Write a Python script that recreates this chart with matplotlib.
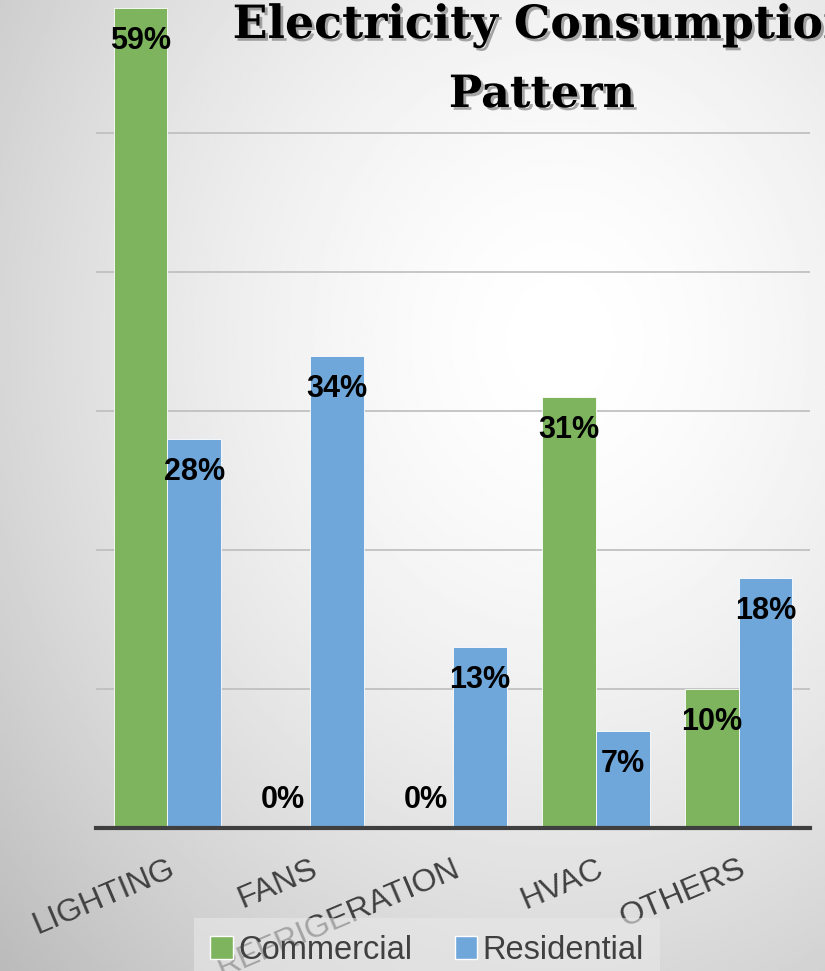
import numpy as np
import matplotlib
matplotlib.use("Agg")
import matplotlib.pyplot as plt
import matplotlib.patheffects as pe
from matplotlib.patches import Patch

categories = ["LIGHTING", "FANS", "REFRIGERATION", "HVAC", "OTHERS"]
commercial = [59, 0, 0, 31, 10]
residential = [28, 34, 13, 7, 18]

green = "#7db45d"
blue = "#6fa7da"
W, H = 825, 971

fig = plt.figure(figsize=(W / 100, H / 100), dpi=100)

# soft radial background like the slide
bg = fig.add_axes([0, 0, 1, 1], zorder=-10)
yy, xx = np.mgrid[0:1:300j, 0:1:300j]
r = np.sqrt(((xx - 0.68) / 0.9) ** 2 + ((yy - 0.35) / 0.9) ** 2)
shade = 1.0 - 0.25 * np.clip(r, 0, 1.3) ** 1.6
bg.imshow(shade, cmap="gray", vmin=0, vmax=1, extent=[0, 1, 0, 1], aspect="auto", origin="upper")
bg.axis("off")

ax = fig.add_axes([96 / W, (H - 828) / H, 714 / W, 828 / H])
ax.patch.set_alpha(0)

x = np.arange(len(categories))
bw = 0.377
b1 = ax.bar(x - bw / 2, commercial, bw, color=green, edgecolor="white", linewidth=0.6, label="Commercial", zorder=3)
b2 = ax.bar(x + bw / 2, residential, bw, color=blue, edgecolor="white", linewidth=0.6, label="Residential", zorder=3)

ax.set_xlim(-0.5, 4.5)
ax.set_ylim(0, 59.6)
ax.set_yticks([10, 20, 30, 40, 50])
ax.yaxis.grid(True, color="#bdbdbd", linewidth=1.2, zorder=0)
ax.tick_params(left=False, labelleft=False, bottom=False, pad=15)
for s in ["top", "right", "left"]:
    ax.spines[s].set_visible(False)
ax.spines["bottom"].set_color("#3f3f3f")
ax.spines["bottom"].set_linewidth(3)
ax.spines["bottom"].set_zorder(4)

ax.set_xticks(x)
ax.set_xticklabels(categories, rotation=23, ha="right", va="top", rotation_mode="anchor",
                   fontsize=23, color="#404040", family="Liberation Sans")

for bars, vals in [(b1, commercial), (b2, residential)]:
    for bar, v in zip(bars, vals):
        cx = bar.get_x() + bar.get_width() / 2
        off = -33 if v > 0 else 28
        ax.annotate(f"{v}%", (cx, v), xytext=(0, off), textcoords="offset pixels",
                    ha="center", va="center", fontsize=22, fontweight="bold",
                    family="Liberation Sans", color="black", zorder=5)

shadow = [pe.SimplePatchShadow(offset=(2, -2), shadow_rgbFace="#555555", alpha=0.5), pe.Normal()]
fig.text(545 / W, 1 - 38 / H, "Electricity Consumption", ha="center", va="baseline",
         fontsize=33, fontweight="bold", family="DejaVu Serif", color="black", path_effects=shadow)
fig.text(542 / W, 1 - 107 / H, "Pattern", ha="center", va="baseline",
         fontsize=32, fontweight="bold", family="DejaVu Serif", color="black", path_effects=shadow)

handles = [Patch(facecolor=green, edgecolor="white"), Patch(facecolor=blue, edgecolor="white")]
leg = fig.legend(handles, ["Commercial", "Residential"], loc="center", bbox_to_anchor=(427 / W, 1 - 950 / H),
                 ncol=2, frameon=True, handlelength=0.7, handleheight=0.7,
                 handletextpad=0.15, columnspacing=1.3, borderpad=0.5, fancybox=False,
                 prop={"family": "Liberation Sans", "size": 23.5})
leg.get_frame().set_facecolor("#e8e8e8")
leg.get_frame().set_edgecolor("none")
leg.get_frame().set_alpha(0.6)
for t in leg.get_texts():
    t.set_color("#404040")

fig.savefig("out.png", dpi=100)
